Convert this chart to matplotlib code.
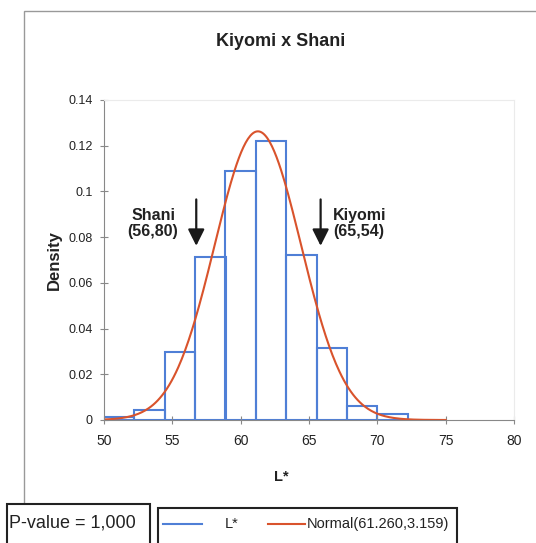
import numpy as np
import matplotlib.pyplot as plt
from matplotlib.patches import Rectangle
from matplotlib.lines import Line2D

plt.rcParams['font.family'] = ['Liberation Sans', 'DejaVu Sans']

# histogram of L* (density), bins of width 20/9
bin_left = [50.00, 52.22, 54.44, 56.67, 58.89, 61.11, 63.33, 65.56, 67.78, 70.00]
bin_width = 2.222
density = [0.0012, 0.0043, 0.0298, 0.0715, 0.1088, 0.1222, 0.0722, 0.0316, 0.0062, 0.0025]
hist_label = 'L*'

# fitted normal
mu, sigma = 61.260, 3.159
curve_from, curve_to = 50, 75
curve_label = 'Normal(%.3f,%.3f)' % (mu, sigma)

# marked samples
samples = [('Shani\n(56,80)', 56.75), ('Kiyomi\n(65,54)', 65.85)]
p_value_text = 'P-value = 1,000'

yticks = [0, 0.02, 0.04, 0.06, 0.08, 0.1, 0.12, 0.14]
ytick_labels = ['0', '0.02', '0.04', '0.06', '0.08', '0.1', '0.12', '0.14']
xticks = [50, 55, 60, 65, 70, 75, 80]

BLUE = '#4f7fd6'
RED = '#d9532c'
TXT = '#222222'

fig = plt.figure(figsize=(5.36, 5.43), dpi=100)
ax = fig.add_axes([104 / 536, 1 - 420 / 543, 410 / 536, 320 / 543])

ax.bar(bin_left, density, width=bin_width, align='edge', fill=False,
       edgecolor=BLUE, linewidth=1.5)

xs = np.linspace(curve_from, curve_to, 300)
pdf = np.exp(-0.5 * ((xs - mu) / sigma) ** 2) / (sigma * np.sqrt(2 * np.pi))
ax.plot(xs, pdf, color=RED, linewidth=1.5)

ax.set_xlim(50, 80)
ax.set_ylim(0, 0.14)
ax.set_xticks(xticks)
ax.set_xticklabels([str(t) for t in xticks], fontsize=10, color=TXT)
ax.set_yticks(yticks)
ax.set_yticklabels(ytick_labels, fontsize=9, color=TXT)
ax.tick_params(axis='both', direction='inout', length=6, color='#888888')
ax.tick_params(axis='x', pad=7)
ax.tick_params(axis='y', pad=5)

for side in ['left', 'bottom']:
    ax.spines[side].set_color('#888888')
for side in ['top', 'right']:
    ax.spines[side].set_color('#ebebeb')

ax.set_ylabel('Density', fontsize=12, fontweight='bold', color=TXT, labelpad=5)
ax.set_xlabel(hist_label, fontsize=10.5, fontweight='bold', color=TXT)
ax.xaxis.set_label_coords((281 - 104) / 410, -0.155)

# sample arrows and labels
for text, xv in samples:
    ax.annotate('', xy=(xv, 0.0762), xytext=(xv, 0.0965),
                arrowprops=dict(arrowstyle='-|>,head_length=1.0,head_width=0.5',
                                color='#1a1a1a', lw=1.6, shrinkA=0, shrinkB=0))
    if xv < mu:
        ax.text(xv - 1.3, 0.086, text, ha='right', va='center', fontsize=11.5,
                fontweight='bold', color=TXT, linespacing=1.1, multialignment='center')
    else:
        ax.text(xv + 0.9, 0.086, text, ha='left', va='center', fontsize=11.5,
                fontweight='bold', color=TXT, linespacing=1.1)

fig.text(281 / 536, 1 - 42 / 543, 'Kiyomi x Shani', ha='center', va='center',
         fontsize=13, fontweight='bold', color=TXT)

# chart area border
fig.add_artist(Rectangle((24 / 536, -0.05), 1.0, 1.05 - 11 / 543,
                         transform=fig.transFigure, fill=False,
                         edgecolor='#999999', linewidth=1.0))

# p-value box
fig.add_artist(Rectangle((7 / 536, -0.02), 143 / 536, (543 - 504) / 543 + 0.02,
                         transform=fig.transFigure, facecolor='white',
                         edgecolor='#222222', linewidth=1.5))
fig.text(9 / 536, 1 - 523 / 543, p_value_text, ha='left', va='center',
         fontsize=13, color=TXT)

# legend box
fig.add_artist(Rectangle((158 / 536, -0.02), 299 / 536, (543 - 508) / 543 + 0.02,
                         transform=fig.transFigure, facecolor='white',
                         edgecolor='#222222', linewidth=1.5))
legend_y = 1 - 524 / 543
entries = [(BLUE, hist_label, 163, 202, 225), (RED, curve_label, 268, 305, 307)]
for color, label, x0, x1, xt in entries:
    fig.add_artist(Line2D([x0 / 536, x1 / 536], [legend_y, legend_y],
                          transform=fig.transFigure, color=color, linewidth=1.5))
    fig.text(xt / 536, legend_y, label, ha='left', va='center',
             fontsize=10.5, color=TXT)

fig.savefig('out.png', dpi=100)
